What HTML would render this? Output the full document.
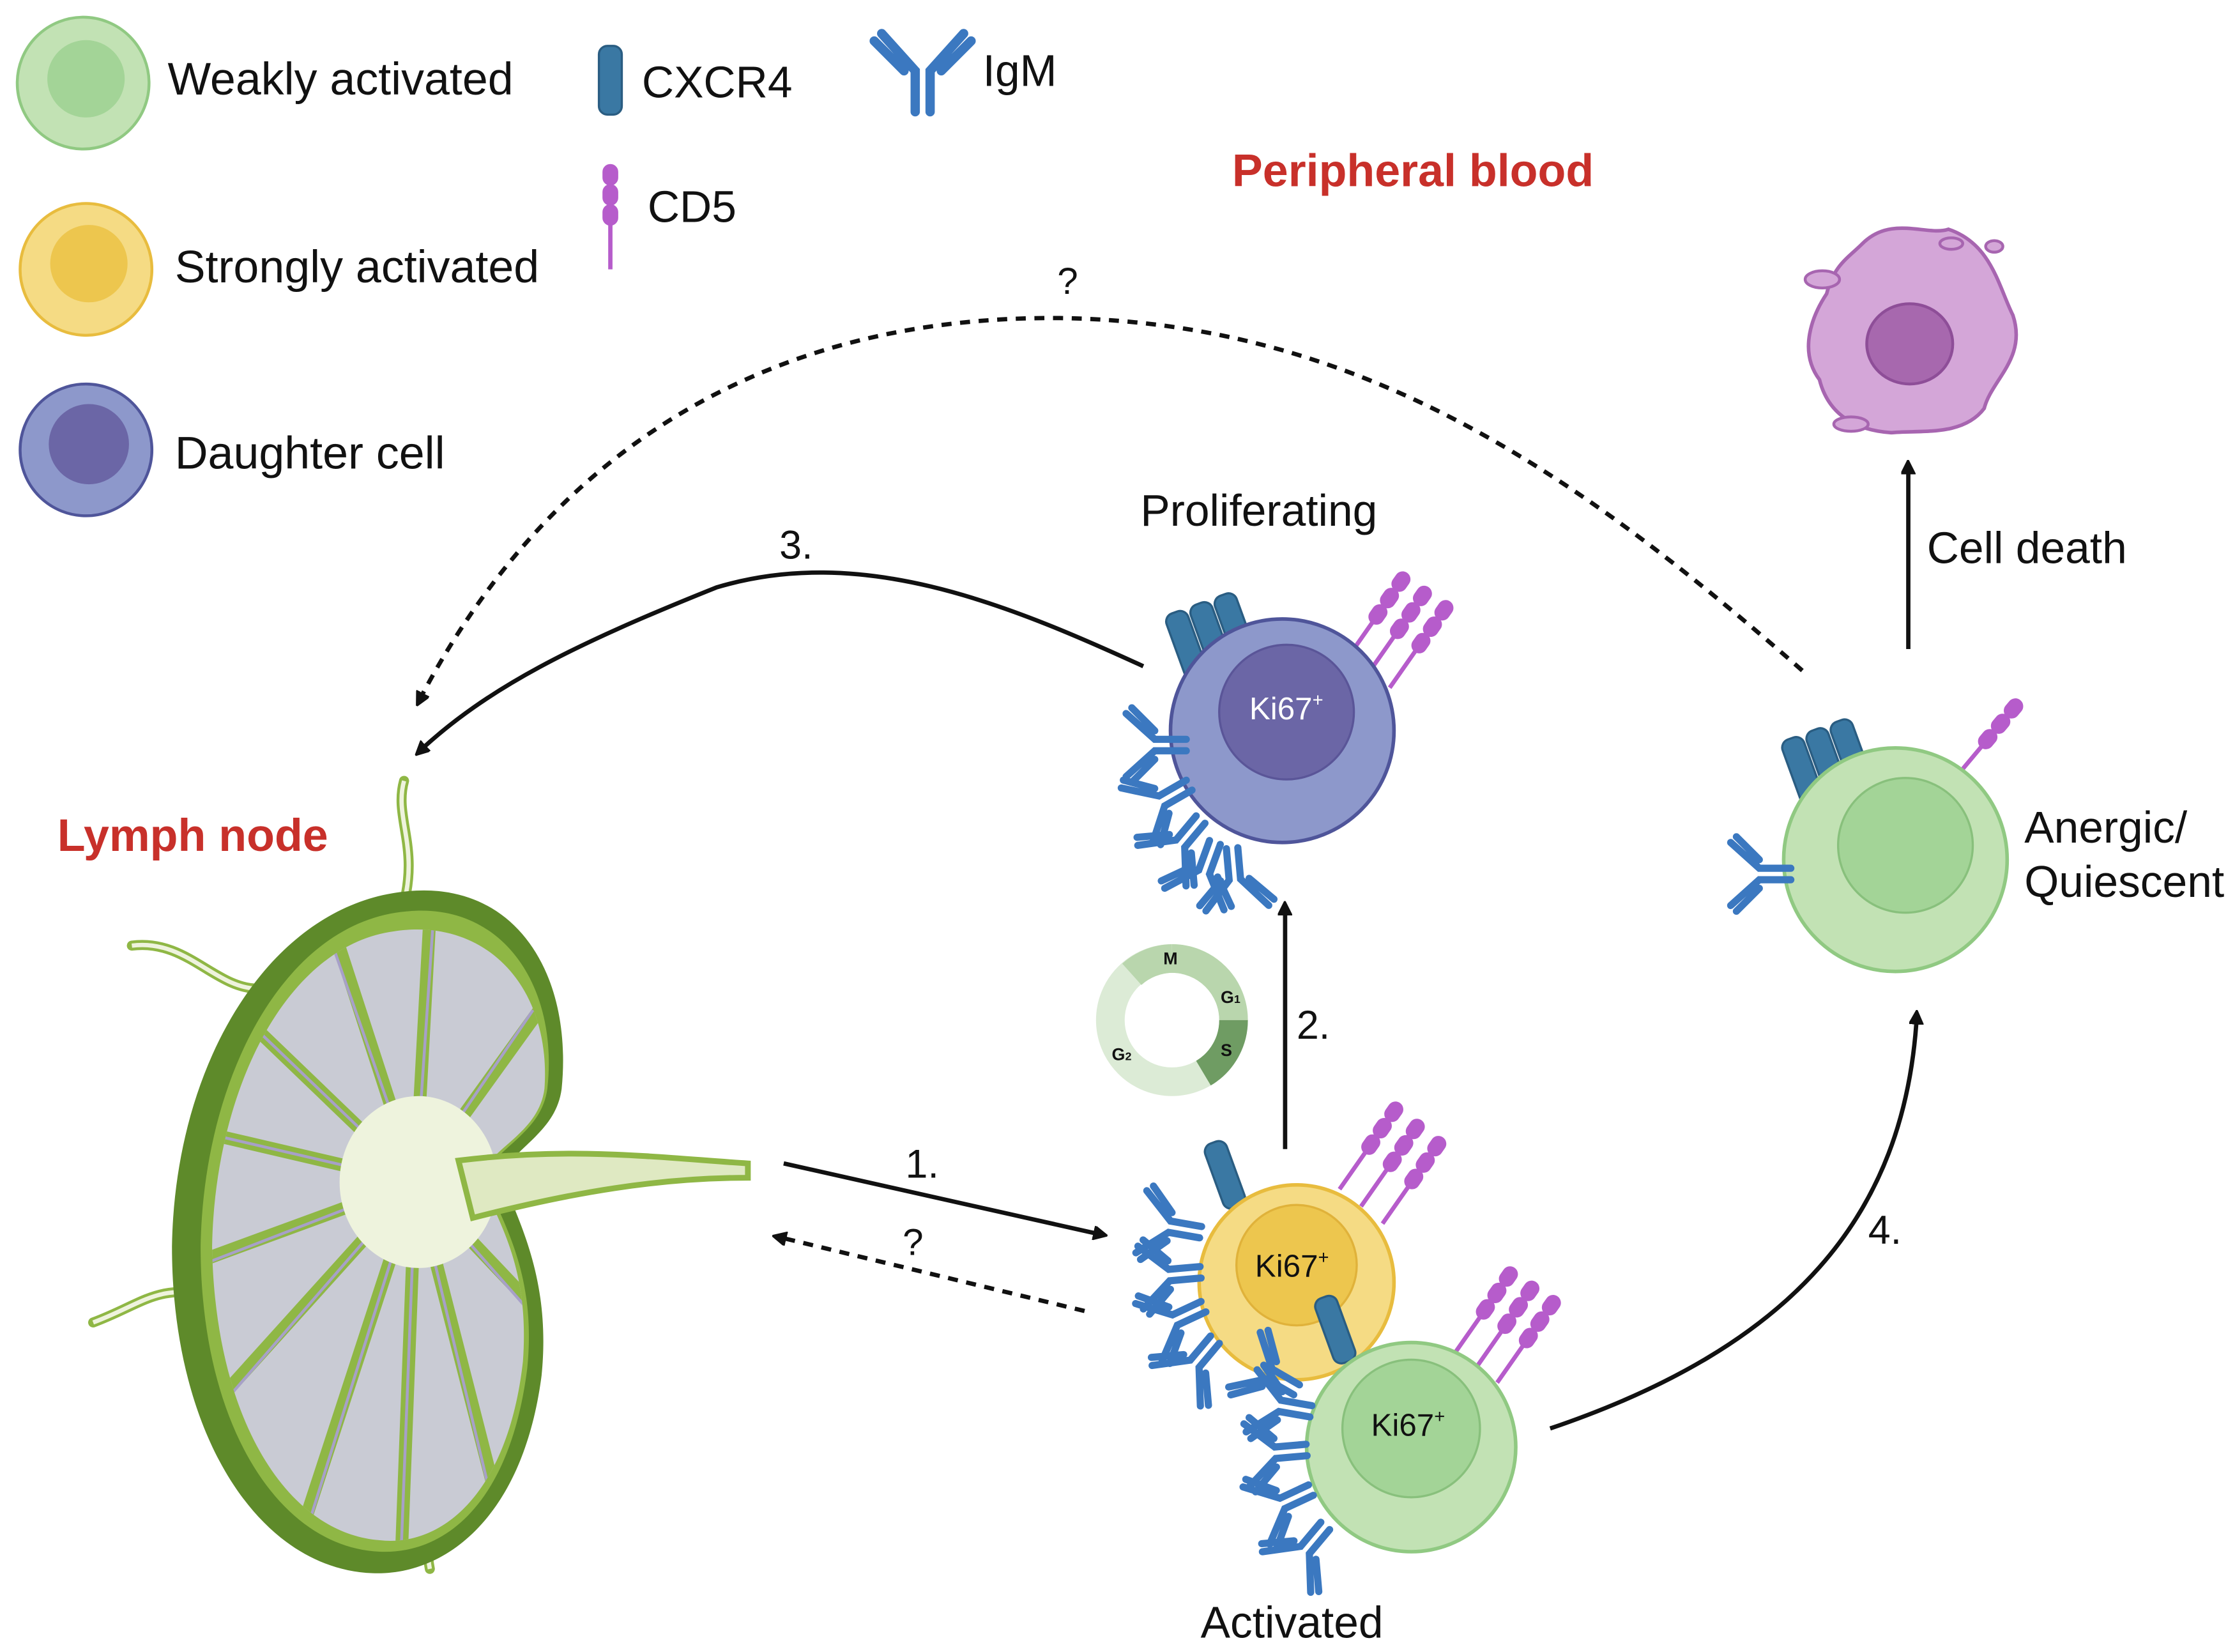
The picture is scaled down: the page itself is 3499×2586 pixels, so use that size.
<!DOCTYPE html>
<html><head><meta charset="utf-8"><style>
html,body{margin:0;padding:0;background:#fff;width:3499px;height:2586px;overflow:hidden}
svg{display:block}
text{font-family:"Liberation Sans",sans-serif;fill:#111}
</style></head><body>
<svg width="3499" height="2586" viewBox="0 0 1560 1153" xmlns="http://www.w3.org/2000/svg">
<defs>
<marker id="ah" markerWidth="10" markerHeight="10" refX="7" refY="5" orient="auto" markerUnits="userSpaceOnUse"><path d="M0,0 L10,5 L0,10 Z" fill="#111" transform="scale(1.6) translate(-3,-2)"/></marker>
<g id="igm" fill="none" stroke="#3b78c0" stroke-width="5" stroke-linecap="round">
<path d="M-4,0 V-22 L-22,-42 M4,0 V-22 L22,-42 M-10,-22 L-26,-38 M10,-22 L26,-38"/>
</g>
<g id="cx"><rect x="-8" y="-24" width="16" height="48" rx="6" fill="#3a78a3" stroke="#2a5d82" stroke-width="1.5"/></g>
<g id="cd5" stroke="#b65ccb" stroke-width="3" fill="#b65ccb"><line x1="0" y1="0" x2="0" y2="-70"/><rect x="-4" y="-72" width="8" height="12" rx="4"/><rect x="-4" y="-58" width="8" height="12" rx="4"/><rect x="-4" y="-44" width="8" height="12" rx="4"/></g>
<clipPath id="lnclip"><path d="M275,650 C340,640 385,690 380,760 C376,790 345,800 335,820 C345,850 370,880 365,950 C355,1040 310,1080 265,1075 C200,1070 150,990 148,870 C150,760 200,660 275,650 Z"/></clipPath>
</defs>

<!-- legend -->
<circle cx="58" cy="58" r="46" fill="#c2e2b4" stroke="#90c982" stroke-width="2"/><circle cx="60" cy="55" r="27" fill="#a3d497"/>
<text x="117" y="66" font-size="32">Weakly activated</text>
<circle cx="60" cy="188" r="46" fill="#f5db84" stroke="#e8bc3e" stroke-width="2"/><circle cx="62" cy="184" r="27" fill="#edc64e"/>
<text x="122" y="197" font-size="32">Strongly activated</text>
<circle cx="60" cy="314" r="46" fill="#8d98cb" stroke="#4f559a" stroke-width="2"/><circle cx="62" cy="310" r="28" fill="#6b66a6"/>
<text x="122" y="327" font-size="32">Daughter cell</text>
<use href="#cx" x="426" y="56"/>
<text x="448" y="68" font-size="31">CXCR4</text>
<g transform="translate(426,188)"><use href="#cd5"/></g>
<text x="452" y="155" font-size="31">CD5</text>
<g transform="translate(644,78) scale(1.3)"><use href="#igm"/></g>
<text x="686" y="60" font-size="31">IgM</text>

<text x="860" y="130" font-size="32" font-weight="bold" style="fill:#c8302a">Peripheral blood</text>
<text x="40" y="594" font-size="32" font-weight="bold" style="fill:#c8302a">Lymph node</text>

<!-- dashed arc -->
<path d="M1258,468 C1100,330 950,225 740,222 C530,220 380,320 292,490" fill="none" stroke="#111" stroke-width="3" stroke-dasharray="7,6" marker-end="url(#ah)"/>
<text x="738" y="205" font-size="26">?</text>

<!-- arrow 3 -->
<path d="M798,465 C700,420 600,380 500,410 C400,450 340,480 292,525" fill="none" stroke="#111" stroke-width="3" marker-end="url(#ah)"/>
<text x="544" y="390" font-size="28">3.</text>

<!-- proliferating cell -->
<text x="796" y="367" font-size="31">Proliferating</text>
<g transform="translate(828,450) rotate(-20)"><use href="#cx"/><use href="#cx" x="18"/><use href="#cx" x="36"/></g>
<g transform="translate(940,460) rotate(35)"><use href="#cd5"/></g>
<g transform="translate(955,470) rotate(35)"><use href="#cd5"/></g>
<g transform="translate(970,480) rotate(35)"><use href="#cd5"/></g>
<circle cx="895" cy="510" r="78" fill="#8d98cb" stroke="#4f559a" stroke-width="2.5"/>
<circle cx="898" cy="497" r="47" fill="#6b66a6" stroke="#5a5598" stroke-width="1.5"/>
<text x="872" y="502" font-size="22" style="fill:#fff">Ki67<tspan font-size="13" dy="-9">+</tspan></text>
<g transform="translate(828,520) rotate(-90)"><use href="#igm"/></g>
<g transform="translate(830,548) rotate(-120)"><use href="#igm"/></g>
<g transform="translate(838,572) rotate(-140)"><use href="#igm"/></g>
<g transform="translate(848,588) rotate(-160)"><use href="#igm"/></g>
<g transform="translate(860,592) rotate(175)"><use href="#igm"/></g>

<!-- cell cycle -->
<circle cx="818" cy="712" r="43" fill="none" stroke="#dcebd6" stroke-width="20"/>
<path d="M818,669 A43,43 0 0,1 861,712" fill="none" stroke="#b9d6ad" stroke-width="20"/>
<path d="M861,712 A43,43 0 0,1 840,749" fill="none" stroke="#6f9c63" stroke-width="20"/>
<path d="M790,680 A43,43 0 0,1 818,669" fill="none" stroke="#b9d6ad" stroke-width="20"/>
<text x="812" y="673" font-size="12" font-weight="bold">M</text>
<text x="852" y="700" font-size="12" font-weight="bold">G<tspan font-size="8">1</tspan></text>
<text x="852" y="737" font-size="12" font-weight="bold">S</text>
<text x="776" y="740" font-size="12" font-weight="bold">G<tspan font-size="8">2</tspan></text>

<!-- arrow 2 -->
<line x1="897" y1="802" x2="897" y2="632" stroke="#111" stroke-width="3" marker-end="url(#ah)"/>
<text x="905" y="725" font-size="28">2.</text>

<!-- lymph node -->
<g stroke="#8fb745" stroke-width="7" fill="none" stroke-linecap="round">
<path d="M282,545 C275,570 292,590 282,630"/><path d="M92,660 C130,655 150,690 180,690"/><path d="M65,923 C100,910 110,895 150,905"/><path d="M300,1095 C295,1070 305,1050 295,1030"/>
</g>
<g stroke="#eef3dd" stroke-width="3" fill="none">
<path d="M282,545 C275,570 292,590 282,630"/><path d="M92,660 C130,655 150,690 180,690"/><path d="M65,923 C100,910 110,895 150,905"/><path d="M300,1095 C295,1070 305,1050 295,1030"/>
</g>
<path d="M285,622 C360,615 400,680 392,760 C388,790 360,800 350,820 C360,850 385,890 378,960 C365,1060 310,1100 260,1098 C180,1095 120,1000 120,870 C122,740 190,630 285,622 Z" fill="#5e8a2a"/>
<path d="M285,636 C352,630 390,690 382,760 C378,790 348,800 338,820 C348,850 375,885 368,955 C356,1050 310,1085 265,1083 C195,1080 140,995 140,870 C142,750 200,642 285,636 Z" fill="#8fb745"/>
<g clip-path="url(#lnclip)">
<rect x="100" y="600" width="320" height="520" fill="#c9cbd4"/>
<g stroke="#8fb745" stroke-width="9" fill="none">
<path d="M290,825 L230,640 M290,825 L300,640 M290,825 L380,700 M290,825 L160,700 M290,825 L140,790 M290,825 L140,880 M290,825 L150,980 M290,825 L210,1070 M290,825 L280,1090 M290,825 L350,1060 M290,825 L380,920"/>
</g>
<g stroke="#a7a0c8" stroke-width="2" fill="none">
<path d="M290,825 L228,648 M290,825 L302,648 M290,825 L372,705 M290,825 L165,705 M290,825 L148,792 M290,825 L148,880 M290,825 L157,978 M290,825 L215,1065 M290,825 L280,1082 M290,825 L345,1055 M290,825 L372,918"/>
</g>
<ellipse cx="292" cy="825" rx="55" ry="60" fill="#eef3dd"/>
</g>
<path d="M320,810 C400,800 460,808 522,812 L522,822 C460,822 400,832 330,850 Z" fill="#dfe9c2" stroke="#8fb745" stroke-width="4"/>

<!-- arrow 1 and ? -->
<line x1="547" y1="812" x2="770" y2="862" stroke="#111" stroke-width="3" marker-end="url(#ah)"/>
<text x="632" y="822" font-size="28">1.</text>
<line x1="757" y1="915" x2="542" y2="863" stroke="#111" stroke-width="3" stroke-dasharray="7,6" marker-end="url(#ah)"/>
<text x="630" y="876" font-size="26">?</text>

<!-- activated cells -->
<g transform="translate(855,820) rotate(-20)"><use href="#cx"/></g>
<g transform="translate(935,830) rotate(35)"><use href="#cd5"/></g>
<g transform="translate(950,842) rotate(35)"><use href="#cd5"/></g>
<g transform="translate(965,854) rotate(35)"><use href="#cd5"/></g>
<circle cx="905" cy="895" r="68" fill="#f5db84" stroke="#e8bc3e" stroke-width="2.5"/>
<circle cx="905" cy="883" r="42" fill="#edc64e" stroke="#e0b23a" stroke-width="1.5"/>
<text x="876" y="891" font-size="22">Ki67<tspan font-size="13" dy="-9">+</tspan></text>
<g transform="translate(838,860) rotate(-80)"><use href="#igm"/></g>
<g transform="translate(838,888) rotate(-95)"><use href="#igm"/></g>
<g transform="translate(840,912) rotate(-115)"><use href="#igm"/></g>
<g transform="translate(848,935) rotate(-140)"><use href="#igm"/></g>
<g transform="translate(932,928) rotate(-20)"><use href="#cx"/></g>
<g transform="translate(1015,945) rotate(35)"><use href="#cd5"/></g>
<g transform="translate(1030,955) rotate(35)"><use href="#cd5"/></g>
<g transform="translate(1045,965) rotate(35)"><use href="#cd5"/></g>
<circle cx="985" cy="1010" r="73" fill="#c2e2b4" stroke="#90c982" stroke-width="2.5"/>
<circle cx="985" cy="997" r="48" fill="#a3d497" stroke="#88c07c" stroke-width="1.5"/>
<text x="957" y="1002" font-size="22">Ki67<tspan font-size="13" dy="-9">+</tspan></text>
<g transform="translate(915,985) rotate(-80)"><use href="#igm"/></g>
<g transform="translate(912,1012) rotate(-95)"><use href="#igm"/></g>
<g transform="translate(915,1040) rotate(-115)"><use href="#igm"/></g>
<g transform="translate(925,1065) rotate(-140)"><use href="#igm"/></g>
<g transform="translate(905,970) rotate(-60)"><use href="#igm"/></g>
<text x="838" y="1143" font-size="31">Activated</text>

<!-- arrow 4 -->
<path d="M1082,997 C1250,940 1330,850 1338,708" fill="none" stroke="#111" stroke-width="3" marker-end="url(#ah)"/>
<text x="1304" y="868" font-size="28">4.</text>

<!-- anergic -->
<g transform="translate(1258,538) rotate(-20)"><use href="#cx"/><use href="#cx" x="18"/><use href="#cx" x="36"/></g>
<g transform="translate(1363,545) rotate(40)"><use href="#cd5"/></g>
<circle cx="1323" cy="600" r="78" fill="#c2e2b4" stroke="#90c982" stroke-width="2.5"/>
<circle cx="1330" cy="590" r="47" fill="#a3d497" stroke="#88c07c" stroke-width="1.5"/>
<g transform="translate(1250,610) rotate(-90)"><use href="#igm"/></g>
<text x="1413" y="588" font-size="31">Anergic/</text>
<text x="1413" y="626" font-size="31">Quiescent</text>

<!-- cell death -->
<line x1="1332" y1="453" x2="1332" y2="324" stroke="#111" stroke-width="3" marker-end="url(#ah)"/>
<text x="1345" y="393" font-size="31">Cell death</text>
<path d="M1300,170 C1320,150 1345,165 1360,160 C1390,170 1395,200 1405,220 C1415,250 1390,265 1385,285 C1370,305 1340,300 1320,302 C1290,300 1275,285 1270,265 C1255,245 1265,220 1275,205 C1280,185 1290,180 1300,170 Z" fill="#d4a6d8" stroke="#a765b0" stroke-width="2.5"/>
<ellipse cx="1333" cy="240" rx="30" ry="28" fill="#a768ae" stroke="#8e4e98" stroke-width="2"/>
<ellipse cx="1272" cy="195" rx="12" ry="6" fill="#d4a6d8" stroke="#a765b0" stroke-width="2"/>
<ellipse cx="1292" cy="296" rx="12" ry="5" fill="#d4a6d8" stroke="#a765b0" stroke-width="2"/>
<ellipse cx="1392" cy="172" rx="6" ry="4" fill="#d4a6d8" stroke="#a765b0" stroke-width="2"/>
<ellipse cx="1362" cy="170" rx="8" ry="4" fill="#d4a6d8" stroke="#a765b0" stroke-width="2"/>
</svg>
</body></html>
